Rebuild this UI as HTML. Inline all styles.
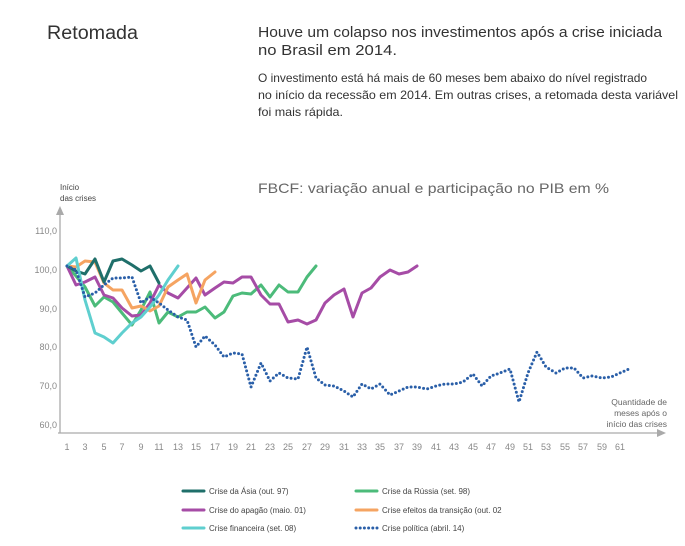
<!DOCTYPE html>
<html><head><meta charset="utf-8"><style>body{margin:0;background:#fff}svg{display:block}text{font-family:"Liberation Sans",sans-serif}</style></head><body>
<svg width="685" height="546" viewBox="0 0 685 546" xmlns="http://www.w3.org/2000/svg">
<text x="47" y="39" font-size="19" fill="#333" textLength="91" lengthAdjust="spacingAndGlyphs">Retomada</text>
<text x="258" y="37" font-size="15" fill="#333" textLength="404" lengthAdjust="spacingAndGlyphs">Houve um colapso nos investimentos após a crise iniciada</text>
<text x="258" y="55" font-size="15" fill="#333" textLength="139" lengthAdjust="spacingAndGlyphs">no Brasil em 2014.</text>
<text x="258" y="82" font-size="12" fill="#333" textLength="389" lengthAdjust="spacingAndGlyphs">O investimento está há mais de 60 meses bem abaixo do nível registrado</text>
<text x="258" y="99" font-size="12" fill="#333" textLength="420" lengthAdjust="spacingAndGlyphs">no início da recessão em 2014. Em outras crises, a retomada desta variável</text>
<text x="258" y="116" font-size="12" fill="#333" textLength="85" lengthAdjust="spacingAndGlyphs">foi mais rápida.</text>
<text x="258" y="193" font-size="14" fill="#666" textLength="351" lengthAdjust="spacingAndGlyphs">FBCF: variação anual e participação no PIB em %</text>
<text x="60" y="190" font-size="8" fill="#444">Início</text>
<text x="60" y="201" font-size="8" fill="#444">das crises</text>
<g stroke="#aaa" stroke-width="1.3" fill="none"><line x1="60" y1="433" x2="60" y2="214"/><line x1="58" y1="433" x2="658" y2="433"/></g>
<polygon points="60,206 56,215 64,215" fill="#aaa"/><polygon points="666,433 657,429 657,437" fill="#aaa"/>
<g font-size="9" fill="#888" text-anchor="end"><text x="57" y="234">110,0</text><text x="57" y="273">100,0</text><text x="57" y="312">90,0</text><text x="57" y="350">80,0</text><text x="57" y="389">70,0</text><text x="57" y="428">60,0</text></g>
<g font-size="8.5" fill="#666" text-anchor="end"><text x="667" y="405">Quantidade de</text><text x="667" y="416">meses após o</text><text x="667" y="427">início das crises</text></g>
<g font-size="9" fill="#888" text-anchor="middle"><text x="67" y="450">1</text><text x="85" y="450">3</text><text x="104" y="450">5</text><text x="122" y="450">7</text><text x="141" y="450">9</text><text x="159" y="450">11</text><text x="178" y="450">13</text><text x="196" y="450">15</text><text x="215" y="450">17</text><text x="233" y="450">19</text><text x="251" y="450">21</text><text x="270" y="450">23</text><text x="288" y="450">25</text><text x="307" y="450">27</text><text x="325" y="450">29</text><text x="344" y="450">31</text><text x="362" y="450">33</text><text x="380" y="450">35</text><text x="399" y="450">37</text><text x="417" y="450">39</text><text x="436" y="450">41</text><text x="454" y="450">43</text><text x="473" y="450">45</text><text x="491" y="450">47</text><text x="510" y="450">49</text><text x="528" y="450">51</text><text x="546" y="450">53</text><text x="565" y="450">55</text><text x="583" y="450">57</text><text x="602" y="450">59</text><text x="620" y="450">61</text></g>
<g fill="none" stroke-width="3" stroke-linejoin="round" stroke-linecap="round">
<polyline stroke="#4cbb7a" points="67,266 76,276 85,287 95,306 104,297 113,302 122,313 132,325 141,310 150,292 159,323 168,312 178,317 187,312 196,312 205,307 215,318 224,312 233,296 242,293 251,294 261,285 270,297 279,285 288,292 298,292 307,277 316,266"/>
<polyline stroke="#a64ca6" points="67,266 76,285 85,282 95,277 104,295 113,298 122,308 132,316 141,315 150,303 159,285 168,293 178,298 187,288 196,278 205,295 215,288 224,282 233,283 242,277 251,277 261,295 270,304 279,304 288,322 298,320 307,324 316,320 325,303 334,295 344,289 353,317 362,293 371,288 380,277 390,270 399,274 408,272 417,266"/>
<polyline stroke="#f5a462" points="67,266 76,267 85,261 95,262 104,283 113,290 122,290 132,308 141,306 150,311 159,306 168,287 178,280 187,274 196,303 205,280 215,272"/>
<polyline stroke="#1f6f6a" points="67,266 76,271 85,274 95,259 104,282 113,261 122,259 132,265 141,271 150,266 159,283"/>
<polyline stroke="#5fcfcf" points="67,266 76,258 85,300 95,333 104,337 113,343 122,333 132,323 141,317 150,307 159,295 168,280 178,266"/>
<polyline stroke="#2a5fa8" stroke-dasharray="0 4.2" points="67,266 76,270 85,297 95,293 104,285 113,278 122,278 132,277 141,303 150,297 159,303 168,310 178,317 187,320 196,347 205,336 215,345 224,357 233,353 242,354 251,387 261,363 270,381 279,373 288,378 298,379 307,347 316,378 325,385 334,386 344,391 353,397 362,384 371,389 380,384 390,395 399,391 408,387 417,387 427,389 436,386 445,384 454,384 463,382 473,374 482,386 491,376 500,373 510,369 519,402 528,373 537,352 546,367 556,373 565,368 574,368 583,378 592,376 602,378 611,377 620,373 629,369"/>
</g>
<g stroke-width="3" stroke-linecap="round">
<line x1="183" y1="491" x2="204" y2="491" stroke="#1f6f6a"/><line x1="356" y1="491" x2="377" y2="491" stroke="#4cbb7a"/>
<line x1="183" y1="510" x2="204" y2="510" stroke="#a64ca6"/><line x1="356" y1="510" x2="377" y2="510" stroke="#f5a462"/>
<line x1="183" y1="528" x2="204" y2="528" stroke="#5fcfcf"/><line x1="356" y1="528" x2="377" y2="528" stroke="#2a5fa8" stroke-dasharray="0 4.2"/>
</g>
<g font-size="8" fill="#444"><text x="209" y="494">Crise da Ásia (out. 97)</text><text x="382" y="494">Crise da Rússia (set. 98)</text><text x="209" y="513">Crise do apagão (maio. 01)</text><text x="382" y="513">Crise efeitos da transição (out. 02</text><text x="209" y="531">Crise financeira (set. 08)</text><text x="382" y="531">Crise política (abril. 14)</text></g>
</svg>
</body></html>
